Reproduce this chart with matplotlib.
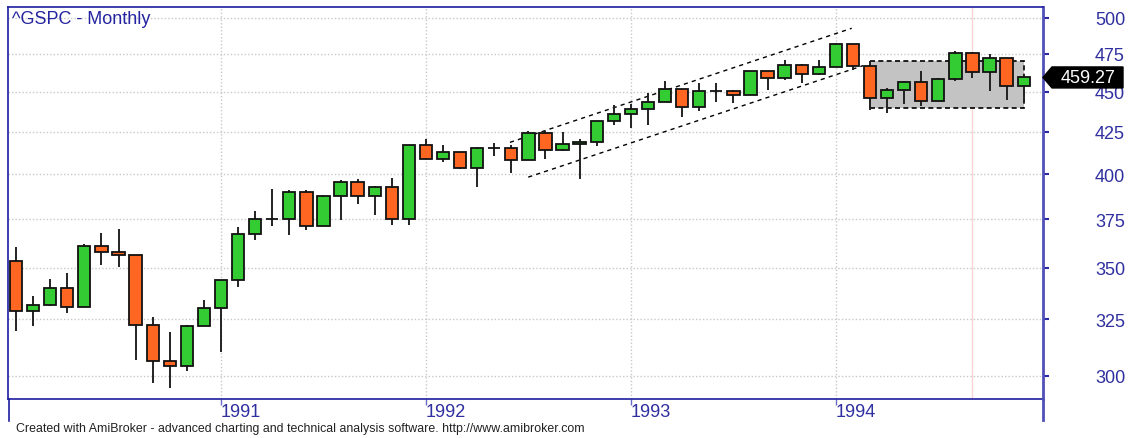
import numpy as np
import matplotlib
matplotlib.use("Agg")
import matplotlib.pyplot as plt
from matplotlib.patches import Rectangle, Polygon
from matplotlib.lines import Line2D

plt.rcParams['font.family'] = ['Liberation Sans', 'DejaVu Sans']

# --- dane: ^GSPC miesięcznie, sty 1990 - gru 1994 ---
opens = [353.4, 329.1, 331.9, 339.9, 330.8, 361.2, 358.0, 356.2, 322.6, 306.1, 304.0, 322.2,
         330.2, 343.9, 367.1, 375.2, 375.3, 389.8, 371.2, 387.8, 395.4, 387.9, 392.5, 375.2,
         417.1, 408.8, 412.7, 403.7, 415.0, 415.4, 408.1, 424.2, 414.0, 417.8, 418.7, 431.4,
         435.7, 438.8, 443.4, 451.7, 440.2, 450.2, 450.5, 448.1, 463.6, 458.9, 467.8, 461.8,
         466.5, 481.6, 467.1, 445.8, 450.9, 456.5, 444.3, 458.3, 475.5, 462.7, 472.4, 453.7]
highs = [360.6, 336.1, 344.5, 347.3, 362.0, 368.0, 369.8, 356.4, 326.1, 319.2, 322.6, 334.4,
         344.1, 370.9, 379.5, 391.5, 390.8, 391.0, 388.0, 396.4, 397.0, 393.5, 398.0, 417.3,
         420.7, 417.3, 413.0, 415.8, 418.2, 416.8, 425.3, 425.7, 425.1, 420.9, 431.5, 441.3,
         442.2, 449.4, 456.9, 451.7, 455.4, 455.9, 451.4, 463.6, 463.8, 471.0, 468.3, 471.0,
         482.3, 481.8, 470.3, 452.6, 457.0, 463.4, 458.7, 477.2, 476.3, 474.6, 472.4, 459.3]
lows = [319.8, 322.1, 331.1, 327.8, 330.8, 351.2, 350.1, 306.8, 296.6, 294.9, 302.0, 322.2,
        310.1, 340.6, 364.3, 371.4, 366.5, 369.4, 371.2, 374.9, 383.4, 377.3, 371.8, 371.8,
        408.6, 407.2, 402.8, 392.8, 410.3, 400.4, 408.1, 408.8, 413.3, 397.2, 416.4, 429.3,
        427.3, 429.3, 443.4, 433.8, 437.7, 443.4, 442.7, 448.1, 451.0, 457.8, 455.9, 461.0,
        466.3, 464.0, 438.2, 436.6, 441.9, 440.8, 444.3, 456.9, 459.0, 450.4, 444.9, 443.4]
closes = [329.1, 331.9, 339.9, 330.8, 361.2, 358.0, 356.2, 322.6, 306.1, 304.0, 322.2, 330.2,
          343.9, 367.1, 375.2, 375.3, 389.8, 371.2, 387.8, 395.4, 387.9, 392.5, 375.2, 417.1,
          408.8, 412.7, 403.7, 415.0, 415.4, 408.1, 424.2, 414.0, 417.8, 418.7, 431.4, 435.7,
          438.8, 443.4, 451.7, 440.2, 450.2, 450.5, 448.1, 463.6, 458.9, 467.8, 461.8, 466.5,
          481.6, 467.1, 445.8, 450.9, 456.5, 444.3, 458.3, 475.5, 462.7, 472.4, 453.7, 459.3]

year_labels = ['1991', '1992', '1993', '1994']
year_pos = [12, 24, 36, 48]
price_ticks = [300, 325, 350, 375, 400, 425, 450, 475, 500]
last_price = 459.27

# kanał (linie przerywane) i prostokąt konsolidacji
upper_x, upper_y = [28.92, 48.93], [418.6, 492.7]
lower_x, lower_y = [29.99, 49.6], [398.3, 467.1]
box_x0, box_x1 = 50, 59
box_lo, box_hi = 439.5, 470.0
selected_bar = 56

W, H = 1131, 439
fig = plt.figure(figsize=(W / 100, H / 100), dpi=100)
ax = fig.add_axes([8 / W, 1 - 400 / H, (1043 - 8) / W, (400 - 8) / H])

o = np.array(opens)
c = np.array(closes)
x = np.arange(len(o))
up = c >= o
bottoms = np.minimum(o, c)
heights = np.abs(c - o)

ax.set_yscale('log')
ax.axvline(selected_bar, color='#ffd4d4', lw=1, zorder=0.5)
ax.add_patch(Rectangle((box_x0, box_lo), box_x1 - box_x0, box_hi - box_lo,
                       facecolor='#c3c3c3', edgecolor='black', lw=1.2,
                       ls=(0, (3, 2)), zorder=1))
ax.plot(upper_x, upper_y, color='black', lw=1, ls=(0, (3, 3)), zorder=1.5)
ax.plot(lower_x, lower_y, color='black', lw=1, ls=(0, (3, 3)), zorder=1.5)

ax.vlines(x, lows, highs, color='#222222', lw=1.4, zorder=2)
ax.bar(x, heights, bottom=bottoms, width=0.72,
       color=np.where(up, '#33cc33', '#ff6622'),
       edgecolor='#111111', lw=1.3, zorder=3)

ax.set_xlim(-0.47, 60.13)
ax.set_ylim(290.1, 507.9)

# oś Y po prawej
ax.yaxis.tick_right()
ax.yaxis.set_minor_locator(matplotlib.ticker.NullLocator())
ax.set_yticks(price_ticks)
ax.set_yticklabels([str(p) for p in price_ticks])
ax.tick_params(axis='y', direction='out', length=4.5, width=1.5, color='#2a2aa8',
               pad=33, labelsize=13, labelcolor='#2f2fa0')
ax.set_xticks(year_pos)
ax.set_xticklabels(year_labels)
ax.tick_params(axis='x', direction='out', length=4.5, width=1, color='#6a6ac8',
               pad=-1.5, labelsize=13, labelcolor='#2f2fa0')
for lab in ax.get_xticklabels():
    lab.set_horizontalalignment('left')

ax.grid(True, color='#c8c8c8', lw=1, ls=(0, (1, 1.5)))
ax.set_axisbelow(True)

for side in ['left', 'top', 'bottom']:
    ax.spines[side].set_color('#1e1ea0')
    ax.spines[side].set_linewidth(1.2)
ax.spines['right'].set_color('#5050b8')
ax.spines['right'].set_linewidth(2)

# przedłużenia pionowych linii pod osią
fig.add_artist(Line2D([8.5 / W, 8.5 / W], [1 - 400 / H, 1 - 422 / H], color='#1e1ea0', lw=1.2))
fig.add_artist(Line2D([1043 / W, 1043 / W], [1 - 400 / H, 1 - 421 / H], color='#5050b8', lw=2))

fig.text(12 / W, 1 - 20 / H, '^GSPC - Monthly', fontsize=13, color='#2424a0', va='center')
fig.text(16 / W, 1 - 429 / H,
         'Created with AmiBroker - advanced charting and technical analysis software. http://www.amibroker.com',
         fontsize=8.9, color='#222222', va='center')

# etykieta ostatniej ceny
yc = ax.transData.transform((0, last_price))[1]
xt = ax.transAxes.transform((1, 0))[0]
pts = [(xt, yc), (xt + 9, yc + 10.5), (xt + 80, yc + 10.5), (xt + 80, yc - 10.5), (xt + 9, yc - 10.5)]
fig.patches.append(Polygon(pts, closed=True, facecolor='black', edgecolor='black',
                           transform=None, figure=fig, zorder=5))
fig.text((xt + 45) / W, yc / H, f'{last_price:.2f}', fontsize=13, color='white',
         ha='center', va='center', zorder=6)

plt.savefig('out.png', dpi=100)
